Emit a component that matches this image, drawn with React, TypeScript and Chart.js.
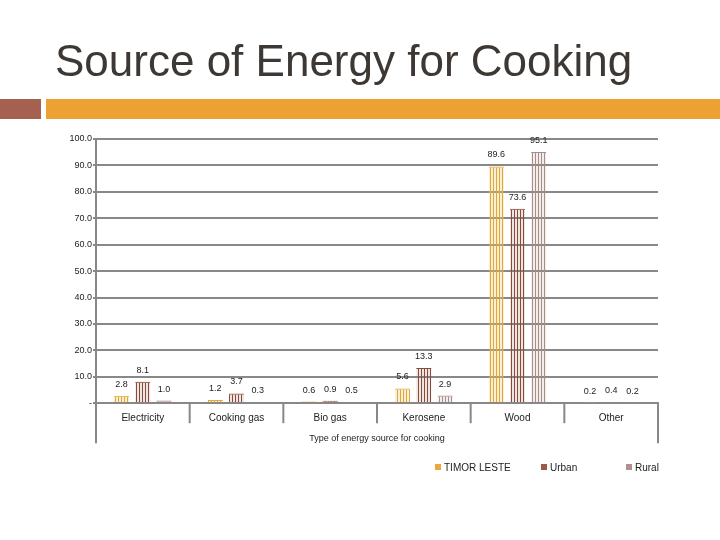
import React, { useEffect, useRef } from "react";
import { Chart, registerables } from "chart.js";
Chart.register(...registerables);

const categories = ["Electricity", "Cooking gas", "Bio gas", "Kerosene", "Wood", "Other"];
const timorLeste = [2.8, 1.2, 0.6, 5.6, 89.6, 0.2];
const urban = [8.1, 3.7, 0.9, 13.3, 73.6, 0.4];
const rural = [1.0, 0.3, 0.5, 2.9, 95.1, 0.2];
const seriesNames = ["TIMOR LESTE", "Urban", "Rural"];
const stripeColors = ["#E0A838", "#8A4A3A", "#A88C86"];
const tintColors = ["rgba(240,200,110,0.3)", "rgba(150,90,75,0.15)", "rgba(170,140,135,0.15)"];
const legendColors = ["#E8A840", "#9B5A4A", "#B09090"];
const yMin = 0;
const yMax = 100;
const yStep = 10;
const xTitle = "Type of energy source for cooking";
const chartTitle = "Source of Energy for Cooking";

const FONT = '"Liberation Sans", Arial, sans-serif';

function makePattern(color: string, tint: string): CanvasPattern | string {
  const c = document.createElement("canvas");
  c.width = 3;
  c.height = 4;
  const g = c.getContext("2d");
  if (!g) return color;
  g.fillStyle = tint;
  g.fillRect(0, 0, 3, 4);
  g.fillStyle = color;
  g.fillRect(1, 0, 1, 4);
  const p = g.createPattern(c, "repeat");
  return p || color;
}

const valueLabels = {
  id: "valueLabels",
  afterDatasetsDraw(chart: any) {
    const ctx = chart.ctx;
    ctx.save();
    ctx.font = `9px ${FONT}`;
    ctx.fillStyle = "#222";
    ctx.textAlign = "center";
    ctx.textBaseline = "alphabetic";
    chart.data.datasets.forEach((ds: any, i: number) => {
      const meta = chart.getDatasetMeta(i);
      meta.data.forEach((el: any, j: number) => {
        ctx.fillText(Number(ds.data[j]).toFixed(1), el.x, el.y - 9);
      });
    });
    ctx.restore();
  },
};

const axisFrame = {
  id: "axisFrame",
  afterDraw(chart: any) {
    const ctx = chart.ctx;
    const { left, right, bottom } = chart.chartArea;
    const n = chart.data.labels.length;
    const w = (right - left) / n;
    ctx.save();
    ctx.strokeStyle = "#888";
    ctx.lineWidth = 2;
    for (let i = 0; i <= n; i++) {
      const x = left + i * w;
      const len = i === 0 || i === n ? 40 : 20;
      ctx.beginPath();
      ctx.moveTo(x, bottom);
      ctx.lineTo(x, bottom + len);
      ctx.stroke();
    }
    ctx.restore();
  },
};

export default function App() {
  const ref = useRef<HTMLCanvasElement | null>(null);

  useEffect(() => {
    if (!ref.current) return;
    const series = [timorLeste, urban, rural];
    const chart = new Chart(ref.current, {
      type: "bar",
      data: {
        labels: categories,
        datasets: series.map((d, i) => ({
          label: seriesNames[i],
          data: d,
          backgroundColor: makePattern(stripeColors[i], tintColors[i]) as any,
          borderColor: stripeColors[i],
          borderWidth: { top: 1, left: 0, right: 0, bottom: 0 },
          borderSkipped: false,
          categoryPercentage: 0.68,
          barPercentage: 0.72,
        })),
      },
      options: {
        animation: false,
        responsive: false,
        maintainAspectRatio: false,
        devicePixelRatio: 1,
        layout: { padding: { top: 139, left: 46, right: 62, bottom: 96 } },
        plugins: {
          legend: { display: false },
          tooltip: { enabled: false },
          title: { display: false },
        },
        scales: {
          x: {
            grid: { display: false, drawTicks: false },
            border: { display: true, color: "#888", width: 2 },
            ticks: { color: "#222", font: { family: FONT, size: 10 }, padding: 9, maxRotation: 0 },
            title: {
              display: true,
              text: xTitle,
              color: "#222",
              font: { family: FONT, size: 9 },
              padding: { top: 0, bottom: 0 },
            },
          },
          y: {
            min: yMin,
            max: yMax,
            afterFit(scale: any) {
              scale.width = 50;
            },
            grid: { color: "#888", lineWidth: 2, tickLength: 3 },
            border: { display: true, color: "#888", width: 2 },
            ticks: {
              stepSize: yStep,
              padding: 1,
              color: "#222",
              font: { family: FONT, size: 9 },
              callback: (v: any) => (Number(v) === 0 ? "-" : Number(v).toFixed(1)),
            },
          },
        },
      },
      plugins: [valueLabels, axisFrame],
    });
    return () => chart.destroy();
  }, []);

  return (
    <div style={{ position: "absolute", left: 0, top: 0, width: 720, height: 540, background: "#fff", overflow: "hidden", fontFamily: FONT }}>
      <canvas ref={ref} width={720} height={540} style={{ position: "absolute", left: 0, top: 0, width: 720, height: 540 }} />
      <div style={{ position: "absolute", left: 55, top: 39, fontSize: 44, lineHeight: 1, color: "#3D3833", whiteSpace: "nowrap" }}>
        {chartTitle}
      </div>
      <div style={{ position: "absolute", left: 0, top: 99, width: 41, height: 20, background: "#A5604F" }} />
      <div style={{ position: "absolute", left: 46, top: 99, width: 674, height: 20, background: "#EDA132" }} />
      {seriesNames.map((name, i) => {
        const xs = [435, 541, 626];
        return (
          <div key={name} style={{ position: "absolute", left: xs[i], top: 461, height: 12, display: "flex", alignItems: "center", fontSize: 10, color: "#222", whiteSpace: "nowrap" }}>
            <span style={{ display: "inline-block", width: 6, height: 6, background: legendColors[i], marginRight: 3 }} />
            {name}
          </div>
        );
      })}
    </div>
  );
}
